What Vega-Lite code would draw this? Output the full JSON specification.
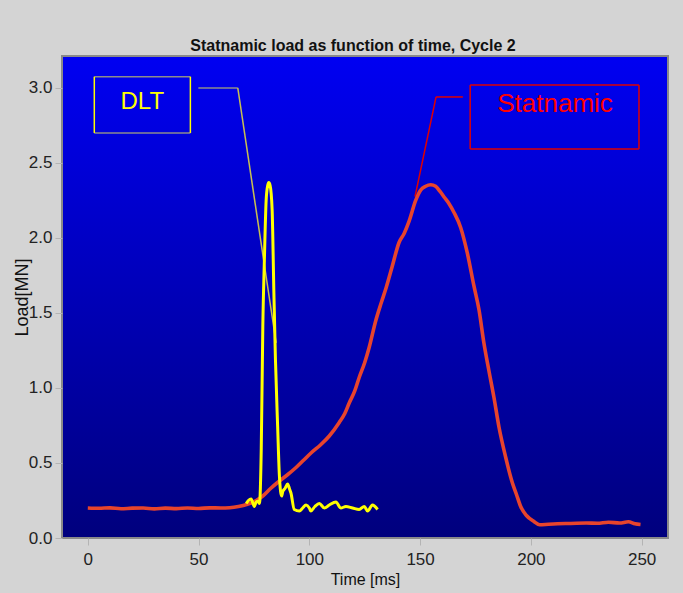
{
  "$schema": "https://vega.github.io/schema/vega-lite/v6.json",
  "width": 606,
  "height": 482,
  "autosize": "none",
  "padding": {"left": 62, "top": 56, "right": 15, "bottom": 55},
  "background": "#d4d4d4",
  "title": {
    "text": "Statnamic load as function of time, Cycle 2",
    "font": "Liberation Sans",
    "fontSize": 16,
    "fontWeight": "bold",
    "color": "#111111",
    "offset": 2,
    "dx": -12
  },
  "config": {
    "view": {
      "fill": {"gradient": "linear", "x1": 0, "y1": 0, "x2": 0, "y2": 1,
        "stops": [{"offset": 0, "color": "#0000f2"}, {"offset": 1, "color": "#00007d"}]},
      "stroke": "#8a8a8a",
      "strokeWidth": 2
    },
    "axis": {
      "labelFont": "Liberation Sans",
      "labelFontSize": 17,
      "labelColor": "#222222",
      "titleFont": "Liberation Sans",
      "titleColor": "#111111",
      "titleFontWeight": "normal",
      "tickColor": "#b4b4b4",
      "tickSize": 7,
      "domain": false,
      "grid": false
    }
  },
  "datasets": {
    "statnamic": [
      {"t": 0, "v": 0.2}, {"t": 5, "v": 0.198}, {"t": 10, "v": 0.201}, {"t": 15, "v": 0.195},
      {"t": 20, "v": 0.199}, {"t": 25, "v": 0.2}, {"t": 30, "v": 0.194}, {"t": 35, "v": 0.199},
      {"t": 40, "v": 0.196}, {"t": 45, "v": 0.2}, {"t": 50, "v": 0.197}, {"t": 55, "v": 0.201},
      {"t": 60, "v": 0.2}, {"t": 64, "v": 0.202}, {"t": 68, "v": 0.21}, {"t": 72, "v": 0.225},
      {"t": 76, "v": 0.25}, {"t": 79, "v": 0.28}, {"t": 82.5, "v": 0.33}, {"t": 86.5, "v": 0.38},
      {"t": 90, "v": 0.42}, {"t": 94, "v": 0.47}, {"t": 97.5, "v": 0.52}, {"t": 101, "v": 0.57},
      {"t": 105, "v": 0.62}, {"t": 109, "v": 0.68}, {"t": 113.5, "v": 0.77}, {"t": 116, "v": 0.83},
      {"t": 118, "v": 0.9}, {"t": 120.5, "v": 0.98}, {"t": 122.5, "v": 1.07}, {"t": 125, "v": 1.17},
      {"t": 127, "v": 1.27}, {"t": 130, "v": 1.45}, {"t": 132.5, "v": 1.57}, {"t": 134.7, "v": 1.67},
      {"t": 137.4, "v": 1.81}, {"t": 140.5, "v": 1.97}, {"t": 142.8, "v": 2.03}, {"t": 145, "v": 2.11},
      {"t": 148, "v": 2.25}, {"t": 150.3, "v": 2.32}, {"t": 152.5, "v": 2.345}, {"t": 154.8, "v": 2.355},
      {"t": 157, "v": 2.345}, {"t": 159, "v": 2.31}, {"t": 161, "v": 2.27}, {"t": 163, "v": 2.23},
      {"t": 165.3, "v": 2.17}, {"t": 168.3, "v": 2.07}, {"t": 171.3, "v": 1.9}, {"t": 174.3, "v": 1.68},
      {"t": 176.6, "v": 1.52}, {"t": 178.8, "v": 1.3}, {"t": 181, "v": 1.12}, {"t": 183.3, "v": 0.94},
      {"t": 185.6, "v": 0.74}, {"t": 188.6, "v": 0.54}, {"t": 191.6, "v": 0.37}, {"t": 193.5, "v": 0.29},
      {"t": 195.4, "v": 0.21}, {"t": 198, "v": 0.15}, {"t": 201.4, "v": 0.11}, {"t": 204, "v": 0.088},
      {"t": 208, "v": 0.092}, {"t": 212, "v": 0.095}, {"t": 218, "v": 0.097}, {"t": 225, "v": 0.1},
      {"t": 230, "v": 0.098}, {"t": 235, "v": 0.105}, {"t": 240, "v": 0.1}, {"t": 244, "v": 0.108},
      {"t": 247, "v": 0.095}, {"t": 249.5, "v": 0.09}
    ],
    "dlt": [
      {"t": 71.5, "v": 0.23}, {"t": 72.5, "v": 0.25}, {"t": 73.7, "v": 0.26}, {"t": 75.2, "v": 0.21},
      {"t": 76, "v": 0.24}, {"t": 76.7, "v": 0.245}, {"t": 77.5, "v": 0.23}, {"t": 78.3, "v": 0.6},
      {"t": 79, "v": 1.41}, {"t": 79.7, "v": 1.85}, {"t": 80.5, "v": 2.25}, {"t": 81.2, "v": 2.35},
      {"t": 81.7, "v": 2.37}, {"t": 82.3, "v": 2.35}, {"t": 83.2, "v": 2.19}, {"t": 84, "v": 1.63},
      {"t": 84.7, "v": 1.19}, {"t": 85.7, "v": 0.74}, {"t": 86.5, "v": 0.41}, {"t": 87.5, "v": 0.28},
      {"t": 88, "v": 0.31}, {"t": 89, "v": 0.33}, {"t": 90.2, "v": 0.36}, {"t": 91, "v": 0.33},
      {"t": 91.7, "v": 0.3}, {"t": 93.2, "v": 0.19}, {"t": 95.5, "v": 0.18}, {"t": 97, "v": 0.2},
      {"t": 98.5, "v": 0.22}, {"t": 100, "v": 0.2}, {"t": 100.7, "v": 0.18}, {"t": 102.5, "v": 0.21},
      {"t": 104.5, "v": 0.23}, {"t": 106.8, "v": 0.2}, {"t": 109, "v": 0.22}, {"t": 112, "v": 0.24},
      {"t": 114.2, "v": 0.2}, {"t": 116.5, "v": 0.21}, {"t": 119.5, "v": 0.2}, {"t": 122.5, "v": 0.19},
      {"t": 124.8, "v": 0.21}, {"t": 126.3, "v": 0.18}, {"t": 128.5, "v": 0.22}, {"t": 130.8, "v": 0.19}
    ],
    "segments": [
      {"x": 2.93, "x2": 46.3, "y": 3.075, "y2": 3.075, "kind": "dlt-frame"},
      {"x": 2.93, "x2": 46.3, "y": 2.7, "y2": 2.7, "kind": "dlt-frame"},
      {"x": 2.93, "x2": 2.93, "y": 2.7, "y2": 3.075, "kind": "dlt-side"},
      {"x": 46.3, "x2": 46.3, "y": 2.7, "y2": 3.075, "kind": "dlt-side"},
      {"x": 49.9, "x2": 67.7, "y": 3.0, "y2": 3.0, "kind": "dlt-frame"},
      {"x": 67.7, "x2": 85.0, "y": 3.0, "y2": 1.3, "kind": "dlt-leader"},
      {"x": 172.6, "x2": 248.8, "y": 3.02, "y2": 3.02, "kind": "stat"},
      {"x": 172.6, "x2": 248.8, "y": 2.593, "y2": 2.593, "kind": "stat"},
      {"x": 172.6, "x2": 172.6, "y": 2.593, "y2": 3.02, "kind": "stat"},
      {"x": 248.8, "x2": 248.8, "y": 2.593, "y2": 3.02, "kind": "stat"},
      {"x": 169.3, "x2": 157.2, "y": 2.94, "y2": 2.94, "kind": "stat"},
      {"x": 157.2, "x2": 147.7, "y": 2.94, "y2": 2.275, "kind": "stat"}
    ]
  },
  "layer": [
    {
      "data": {"name": "segments"},
      "mark": {"type": "rule", "strokeWidth": 1.5},
      "encoding": {
        "x": {"field": "x", "type": "quantitative", "scale": {"domain": [-11.65, 261.9], "nice": false, "zero": false}},
        "x2": {"field": "x2"},
        "y": {"field": "y", "type": "quantitative", "scale": {"domain": [0, 3.213], "nice": false, "zero": false}},
        "y2": {"field": "y2"},
        "color": {"field": "kind", "type": "nominal", "legend": null,
          "scale": {"domain": ["dlt-frame", "dlt-side", "dlt-leader", "stat"], "range": ["#8c8c8c", "#ffff00", "#c8c050", "#e00000"]}}
      }
    },
    {
      "data": {"name": "statnamic"},
      "mark": {"type": "line", "color": "#e8442c", "strokeWidth": 3.6, "interpolate": "monotone", "strokeJoin": "round"},
      "encoding": {
        "x": {"field": "t", "type": "quantitative", "title": "Time [ms]",
          "axis": {"values": [0, 50, 100, 150, 200, 250], "labelPadding": 6, "titleFontSize": 16, "titlePadding": 4}},
        "y": {"field": "v", "type": "quantitative", "title": "Load[MN]",
          "axis": {"values": [0, 0.5, 1, 1.5, 2, 2.5, 3], "format": ".1f", "labelPadding": 3, "titleFontSize": 18, "titlePadding": -3}}
      }
    },
    {
      "data": {"name": "dlt"},
      "mark": {"type": "line", "color": "#ffff00", "strokeWidth": 3, "interpolate": "monotone", "strokeJoin": "round"},
      "encoding": {
        "x": {"field": "t", "type": "quantitative"},
        "y": {"field": "v", "type": "quantitative"}
      }
    },
    {
      "data": {"values": [{"x": 24.6, "y": 2.86, "label": "DLT"}]},
      "mark": {"type": "text", "font": "Liberation Sans", "fontSize": 24, "color": "#ffff00", "align": "center", "baseline": "alphabetic"},
      "encoding": {
        "x": {"field": "x", "type": "quantitative"},
        "y": {"field": "y", "type": "quantitative"},
        "text": {"field": "label"}
      }
    },
    {
      "data": {"values": [{"x": 210.9, "y": 2.842, "label": "Statnamic"}]},
      "mark": {"type": "text", "font": "Liberation Sans", "fontSize": 26, "color": "#ff0000", "align": "center", "baseline": "alphabetic"},
      "encoding": {
        "x": {"field": "x", "type": "quantitative"},
        "y": {"field": "y", "type": "quantitative"},
        "text": {"field": "label"}
      }
    }
  ]
}
